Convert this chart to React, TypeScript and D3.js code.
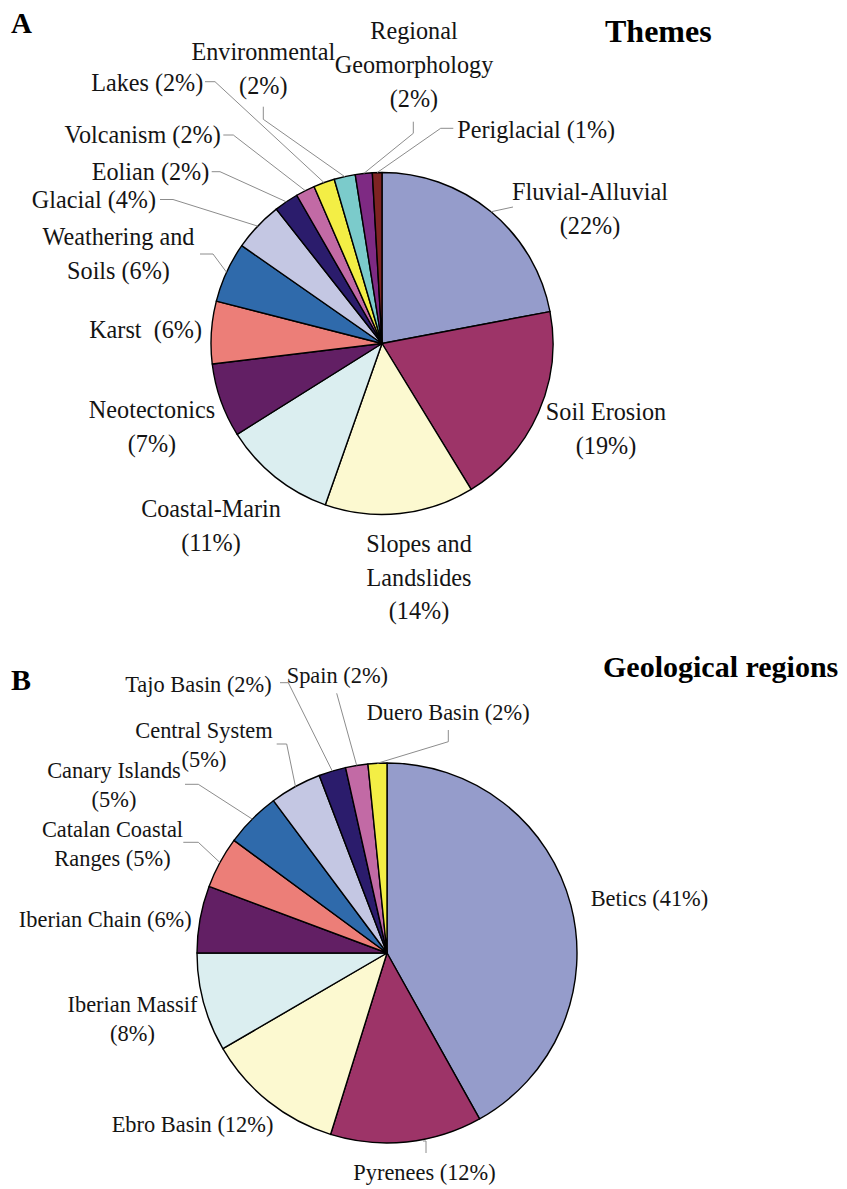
import React from 'react';
import * as d3 from 'd3';

// ---------- DATA ----------
const themeCategories = [
  'Fluvial-Alluvial', 'Soil Erosion', 'Slopes and Landslides', 'Coastal-Marin', 'Neotectonics',
  'Karst', 'Weathering and Soils', 'Glacial', 'Eolian', 'Volcanism', 'Lakes', 'Environmental',
  'Regional Geomorphology', 'Periglacial',
];
const themeShares = [22.0, 19.25, 14.1, 10.7, 7.0, 5.9, 5.7, 4.7, 2.3, 1.8, 2.0, 2.0, 1.6, 0.9];
const themePctLabels = ['22%', '19%', '14%', '11%', '7%', '6%', '6%', '4%', '2%', '2%', '2%', '2%', '2%', '1%'];

const regionCategories = [
  'Betics', 'Pyrenees', 'Ebro Basin', 'Iberian Massif', 'Iberian Chain', 'Catalan Coastal Ranges',
  'Canary Islands', 'Central System', 'Tajo Basin', 'Spain', 'Duero Basin',
];
const regionShares = [41.9, 12.9, 11.8, 8.4, 5.7, 4.4, 4.7, 4.4, 2.3, 1.9, 1.6];
const regionPctLabels = ['41%', '12%', '12%', '8%', '6%', '5%', '5%', '5%', '2%', '2%', '2%'];

const palette = [
  '#959ccb', '#9d3468', '#fcf9d0', '#dbeef0', '#621f64', '#ec7e78', '#2f6aab',
  '#c4c7e3', '#2b1c6c', '#c26aa5', '#f3ee45', '#7bcbcb', '#7e2a83', '#7e2323',
];

// ---------- LAYOUT ----------
type Spec = {
  x: number; y: number; anchor: 'start' | 'middle' | 'end';
  breaks?: number[]; pctOwnLine?: boolean; gap?: string;
  leader?: [number, number][]; toPie?: boolean;
};

const themeLayout: Spec[] = [
  { x: 590, y: 200, anchor: 'middle', pctOwnLine: true, leader: [[513, 207]] },
  { x: 606, y: 420, anchor: 'middle', pctOwnLine: true },
  { x: 419, y: 552, anchor: 'middle', breaks: [2], pctOwnLine: true },
  { x: 211, y: 517, anchor: 'middle', pctOwnLine: true },
  { x: 152, y: 418, anchor: 'middle', pctOwnLine: true },
  { x: 202, y: 338, anchor: 'end', gap: '  ' },
  { x: 118.5, y: 245, anchor: 'middle', breaks: [2], leader: [[200, 254], [213, 254]] },
  { x: 156, y: 208, anchor: 'end', leader: [[160, 199.5], [173, 199.5]] },
  { x: 209.3, y: 180, anchor: 'end', leader: [[211.7, 171.7], [220, 171.7]] },
  { x: 220.7, y: 143.3, anchor: 'end', leader: [[223.3, 135], [233.3, 135]] },
  { x: 203.3, y: 90.7, anchor: 'end', leader: [[205, 81.7], [215, 81.7]] },
  { x: 263.3, y: 60, anchor: 'middle', pctOwnLine: true, leader: [[263.3, 106.7], [263.3, 119.3]] },
  { x: 414, y: 39.3, anchor: 'middle', breaks: [1], pctOwnLine: true, leader: [[413.3, 121.7], [413.3, 133.3]] },
  { x: 457.3, y: 138.3, anchor: 'start', leader: [[453.3, 128.3], [440.7, 128.3]] },
];

const regionLayout: Spec[] = [
  { x: 590.7, y: 906, anchor: 'start' },
  { x: 353.3, y: 1180, anchor: 'start', leader: [[426, 1153], [426, 1141], [423, 1141]], toPie: false },
  { x: 111.7, y: 1131.7, anchor: 'start' },
  { x: 132.5, y: 1011.7, anchor: 'middle', pctOwnLine: true },
  { x: 191.7, y: 926.7, anchor: 'end' },
  { x: 112.5, y: 836.7, anchor: 'middle', breaks: [2], leader: [[183.3, 842.3], [198.3, 842.3]] },
  { x: 114, y: 778.3, anchor: 'middle', pctOwnLine: true, leader: [[185, 784.3], [198.3, 784.3]] },
  { x: 204, y: 738.3, anchor: 'middle', pctOwnLine: true, leader: [[276.7, 744], [286.7, 744]] },
  { x: 271.7, y: 691.7, anchor: 'end', leader: [[280, 682.7], [288.3, 682.7]] },
  { x: 286.7, y: 683.3, anchor: 'start', leader: [[336.7, 693.3]] },
  { x: 366.7, y: 720, anchor: 'start', leader: [[448.3, 730], [448.3, 741.7]] },
];

const FONT = '"Liberation Serif", "Times New Roman", Times, serif';

function buildLines(name: string, pct: string, s: Spec): string[] {
  const words = name.split(' ');
  const starts = [0, ...(s.breaks || [])];
  const lines: string[] = [];
  for (let i = 0; i < starts.length; i++) {
    lines.push(words.slice(starts[i], i + 1 < starts.length ? starts[i + 1] : words.length).join(' '));
  }
  const p = `(${pct})`;
  if (s.pctOwnLine) lines.push(p);
  else lines[lines.length - 1] = lines[lines.length - 1] + (s.gap ?? ' ') + p;
  return lines;
}

type PieProps = {
  cx: number; cy: number; r: number;
  names: string[]; values: number[]; pcts: string[]; layout: Spec[];
  fontSize: number; lineH: number;
};

function Pie({ cx, cy, r, names, values, pcts, layout, fontSize, lineH }: PieProps) {
  const pie = d3.pie<number>().sort(null).value((d) => d);
  const arcs = pie(values);
  const arc = d3.arc<d3.PieArcDatum<number>>().innerRadius(0).outerRadius(r);
  const line = d3.line();
  return (
    <g>
      <g transform={`translate(${cx},${cy})`}>
        {arcs.map((a, i) => (
          <path key={i} d={arc(a) || ''} fill={palette[i % palette.length]} stroke="#000" strokeWidth={1.4} strokeLinejoin="round" />
        ))}
      </g>
      {arcs.map((a, i) => {
        const s = layout[i];
        if (!s.leader) return null;
        const pts: [number, number][] = [...s.leader];
        if (s.toPie !== false) {
          const mid = (a.startAngle + a.endAngle) / 2;
          pts.push([cx + r * Math.sin(mid), cy - r * Math.cos(mid)]);
        }
        return <path key={'l' + i} d={line(pts) || ''} fill="none" stroke="#8c8c8c" strokeWidth={1} />;
      })}
      {names.map((n, i) => {
        const s = layout[i];
        const lines = buildLines(n, pcts[i], s);
        return (
          <text key={'t' + i} x={s.x} y={s.y} textAnchor={s.anchor} fontFamily={FONT} fontSize={fontSize} fill="#141414">
            {lines.map((t, j) => (
              <tspan key={j} x={s.x} y={s.y + j * lineH} style={{ whiteSpace: 'pre' }}>{t}</tspan>
            ))}
          </text>
        );
      })}
    </g>
  );
}

export default function App() {
  return (
    <svg width={847} height={1189} style={{ position: 'absolute', left: 0, top: 0, background: '#fff' }}>
      <rect width={847} height={1189} fill="#fff" />
      <text x={11} y={33} fontFamily={FONT} fontWeight="bold" fontSize={29} fill="#000">A</text>
      <text x={605} y={42} fontFamily={FONT} fontWeight="bold" fontSize={32} fill="#000">Themes</text>
      <Pie cx={382} cy={343.5} r={171} names={themeCategories} values={themeShares} pcts={themePctLabels}
        layout={themeLayout} fontSize={24.2} lineH={33.6} />
      <text x={11} y={690} fontFamily={FONT} fontWeight="bold" fontSize={30} fill="#000">B</text>
      <text x={603} y={677} fontFamily={FONT} fontWeight="bold" fontSize={30} fill="#000">Geological regions</text>
      <Pie cx={387} cy={953} r={190} names={regionCategories} values={regionShares} pcts={regionPctLabels}
        layout={regionLayout} fontSize={22.4} lineH={28.8} />
    </svg>
  );
}
